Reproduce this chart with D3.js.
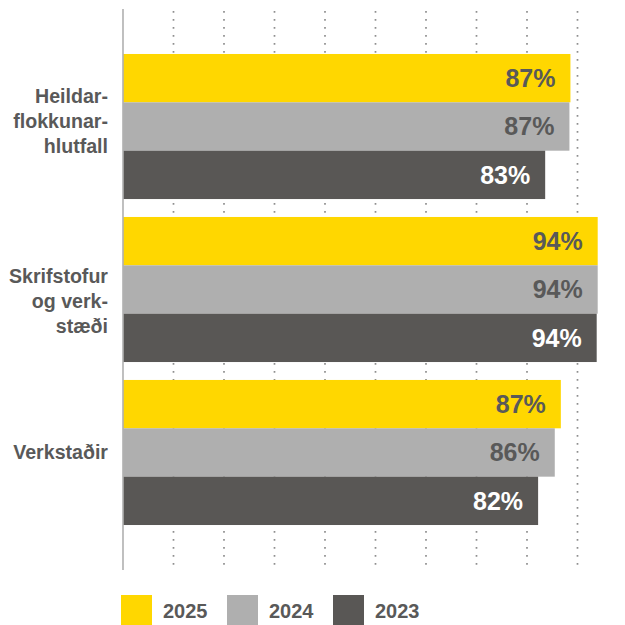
<!DOCTYPE html>
<html>
<head>
<meta charset="utf-8">
<script src="https://cdn.jsdelivr.net/npm/d3@7"></script>
<style>
  html, body { margin: 0; padding: 0; background: #fff; }
  svg { display: block; font-family: "Liberation Sans", Arial, sans-serif; }
</style>
</head>
<body>
<svg id="chart" width="625" height="625"></svg>
<script>
// categories (label lines) and series
const categories = ["Heildarflokkunarhlutfall", "Skrifstofur og verkstæði", "Verkstaðir"];
const categoryLines = [["Heildar-", "flokkunar-", "hlutfall"], ["Skrifstofur", "og verk-", "stæði"], ["Verkstaðir"]];
const years = ["2025", "2024", "2023"];
// bar lengths (percent)
const values2025 = [88.6, 94.0, 86.7];
const values2024 = [88.4, 94.0, 85.5];
const values2023 = [83.6, 93.8, 82.2];
// printed labels
const labels2025 = ["87%", "94%", "87%"];
const labels2024 = ["87%", "94%", "86%"];
const labels2023 = ["83%", "94%", "82%"];

const colors = { "2025": "#ffd700", "2024": "#afafaf", "2023": "#595755" };
const textColors = { "2025": "#595959", "2024": "#595959", "2023": "#ffffff" };
const labelNudge = [-6, 11, -1];

const seriesValues = { "2025": values2025, "2024": values2024, "2023": values2023 };
const seriesLabels = { "2025": labels2025, "2024": labels2024, "2023": labels2023 };

const data = categories.map((c, i) => ({
  category: c,
  bars: years.map((y) => ({ year: y, value: seriesValues[y][i], label: seriesLabels[y][i] })),
}));

const svg = d3.select("#chart");

const x = d3.scaleLinear().domain([0, 100]).range([123, 628]);
const y = d3.scaleBand().domain(categories).range([9, 570]).paddingInner(0.11).paddingOuter(0.276);
const ySub = d3.scaleBand().domain(years).range([0, y.bandwidth()]);

// dotted gridlines
svg.append("g")
  .selectAll("line")
  .data(x.ticks(10).filter((t) => t > 0 && t < 100))
  .enter()
  .append("line")
  .attr("x1", (d) => x(d))
  .attr("x2", (d) => x(d))
  .attr("y1", 11)
  .attr("y2", 570)
  .attr("stroke", "#8f8f8f")
  .attr("stroke-width", 1.7)
  .attr("stroke-dasharray", "1.7,6.3");

const groups = svg.append("g")
  .selectAll("g")
  .data(data)
  .enter()
  .append("g")
  .attr("transform", (d) => "translate(0," + y(d.category) + ")");

groups.selectAll("rect")
  .data((d) => d.bars)
  .enter()
  .append("rect")
  .attr("x", x(0))
  .attr("y", (d) => ySub(d.year))
  .attr("width", (d) => x(d.value) - x(0))
  .attr("height", ySub.bandwidth())
  .attr("fill", (d) => colors[d.year]);

groups.selectAll("text.value")
  .data((d) => d.bars)
  .enter()
  .append("text")
  .attr("class", "value")
  .attr("x", (d) => x(d.value) - 15)
  .attr("y", (d) => ySub(d.year) + ySub.bandwidth() / 2)
  .attr("dy", "0.36em")
  .attr("text-anchor", "end")
  .attr("font-size", 25)
  .attr("font-weight", "bold")
  .attr("fill", (d) => textColors[d.year])
  .text((d) => d.label);

// category labels
svg.append("g")
  .selectAll("text")
  .data(categories)
  .enter()
  .append("text")
  .attr("text-anchor", "end")
  .attr("font-size", 19.6)
  .attr("font-weight", "bold")
  .attr("fill", "#595959")
  .each(function (d, i) {
    const lines = categoryLines[i];
    const cy = y(d) + y.bandwidth() / 2 + labelNudge[i];
    const first = cy - ((lines.length - 1) * 25) / 2;
    d3.select(this)
      .selectAll("tspan")
      .data(lines)
      .enter()
      .append("tspan")
      .attr("x", 108)
      .attr("y", (l, j) => first + j * 25)
      .attr("dy", "0.36em")
      .text((l) => l);
  });

// axis line
svg.append("line")
  .attr("x1", x(0))
  .attr("x2", x(0))
  .attr("y1", 9)
  .attr("y2", 570)
  .attr("stroke", "#b0b0b0")
  .attr("stroke-width", 1.6);

// legend
const legend = svg.append("g")
  .selectAll("g")
  .data(years)
  .enter()
  .append("g")
  .attr("transform", (d, i) => "translate(" + (121 + i * 106) + ",595)");

legend.append("rect")
  .attr("width", 31)
  .attr("height", 30)
  .attr("fill", (d) => colors[d]);

legend.append("text")
  .attr("x", 42)
  .attr("y", 22.5)
  .attr("font-size", 20)
  .attr("font-weight", "bold")
  .attr("fill", "#595959")
  .text((d) => d);
</script>
</body>
</html>
